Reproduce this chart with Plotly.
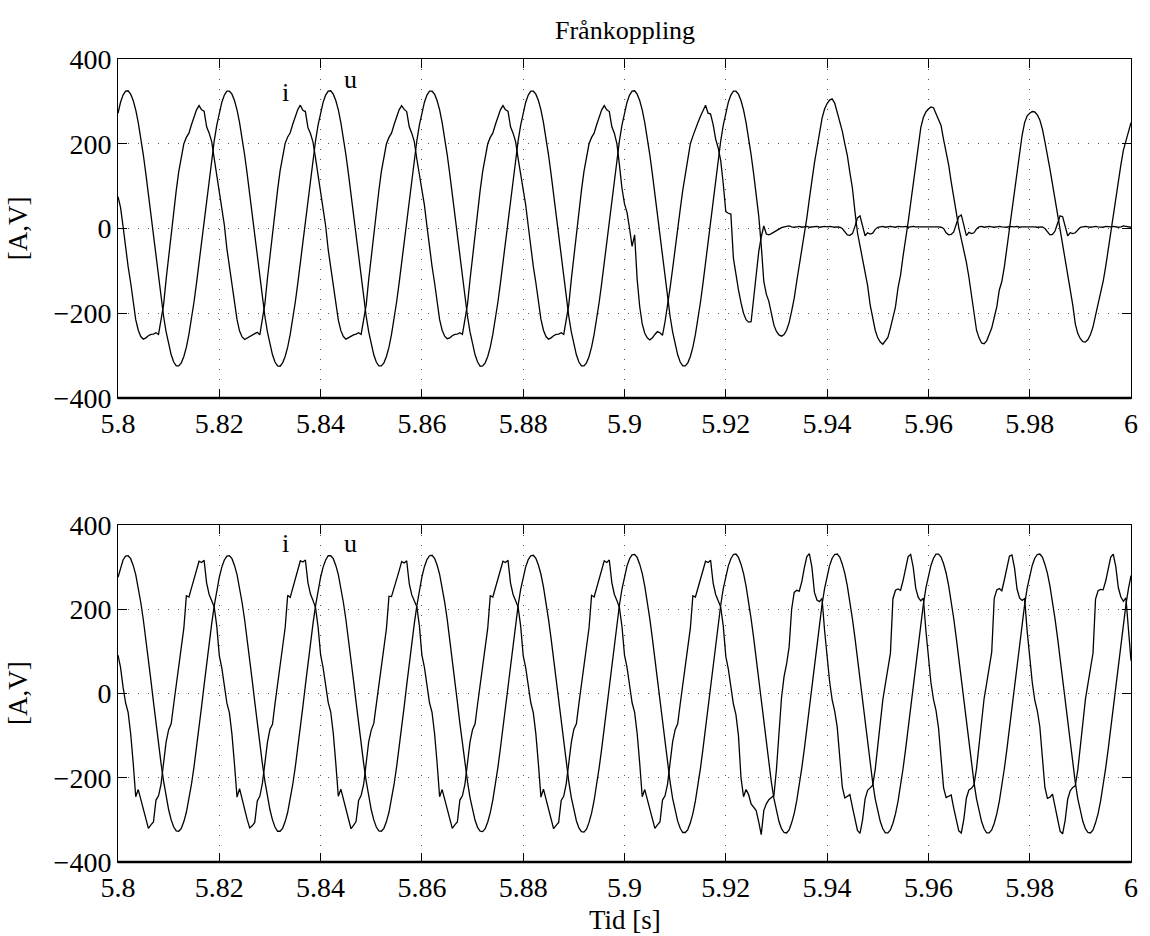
import numpy as np
import plotly.graph_objects as go

# Sampling: 0.5 ms steps from 5.8 s to 6.0 s (401 samples)
t = np.linspace(5.8, 6.0, 401)

# Upper panel: voltage u1 [V]
u1 = [
    272, 298, 315, 324, 325, 317, 302, 280, 250, 214, 174, 129, 81, 31, -20, -71, -120, -165, -207, -244,
    -274, -298, -315, -324, -324, -317, -302, -280, -250, -215, -174, -129, -81, -31, 20, 71, 120, 165, 207, 244,
    274, 298, 315, 324, 324, 317, 302, 280, 250, 215, 174, 129, 81, 31, -20, -71, -120, -165, -207, -244,
    -274, -298, -315, -324, -325, -317, -302, -280, -250, -215, -174, -129, -81, -31, 20, 71, 120, 165, 207, 244,
    274, 298, 315, 324, 325, 317, 302, 280, 250, 215, 174, 129, 81, 31, -20, -71, -120, -165, -207, -244,
    -274, -298, -315, -324, -324, -317, -302, -280, -250, -215, -174, -129, -81, -31, 20, 71, 120, 165, 207, 244,
    274, 298, 315, 324, 324, 317, 302, 280, 250, 215, 174, 129, 81, 31, -20, -71, -120, -165, -207, -244,
    -274, -298, -315, -325, -324, -317, -302, -280, -250, -215, -174, -129, -81, -31, 20, 71, 120, 165, 207, 244,
    274, 298, 315, 324, 324, 317, 302, 280, 250, 215, 174, 129, 81, 31, -20, -71, -120, -165, -207, -244,
    -274, -298, -315, -324, -324, -317, -302, -280, -250, -215, -174, -129, -81, -31, 20, 71, 120, 165, 207, 244,
    274, 298, 315, 324, 325, 317, 302, 280, 250, 215, 174, 129, 81, 31, -20, -71, -120, -165, -207, -244,
    -274, -298, -315, -324, -324, -317, -302, -280, -250, -215, -174, -129, -81, -31, 20, 71, 120, 165, 207, 244,
    274, 298, 315, 324, 324, 317, 302, 280, 250, 215, 174, 129, 81, 30, -40, -125, -155, -172, -200, -228,
    -243, -251, -254, -250, -240, -222, -195, -165, -125, -90, -50, -12, 25, 70, 115, 155, 190, 228, 260, 282,
    295, 303, 306, 296, 275, 255, 230, 200, 172, 132, 95, 40, -10, -41, -72, -100, -135, -180, -210, -240,
    -258, -268, -273, -266, -257, -235, -210, -185, -140, -110, -65, -30, 15, 60, 105, 150, 195, 238, 262, 275,
    282, 287, 285, 272, 258, 243, 210, 180, 150, 110, 75, 30, 2, -25, -52, -80, -115, -158, -200, -240,
    -258, -270, -272, -265, -250, -235, -210, -185, -145, -125, -90, -45, -5, 40, 85, 133, 175, 220, 250, 266,
    272, 276, 275, 268, 256, 235, 205, 175, 140, 105, 70, 30, -9, -40, -70, -105, -140, -180, -225, -248,
    -260, -267, -268, -262, -250, -232, -205, -180, -150, -125, -90, -50, -10, 35, 80, 120, 150, 185, 205, 230,
    250,
]

# Upper panel: current i1 [A]
i1 = [
    75, 50, 5, -50, -90, -128, -170, -215, -240, -255, -261, -258, -253, -250, -249, -246, -250, -215, -180, -120,
    -65, -12, 40, 90, 135, 172, 200, 215, 225, 245, 262, 280, 290, 280, 277, 240, 225, 205, 165, 128,
    92, 55, 8, -48, -88, -130, -172, -215, -242, -256, -262, -258, -254, -250, -248, -245, -251, -214, -178, -118,
    -63, -10, 42, 90, 136, 172, 201, 216, 226, 246, 263, 281, 291, 279, 276, 238, 224, 204, 166, 126,
    90, 54, 6, -50, -90, -129, -171, -216, -241, -255, -261, -257, -253, -251, -249, -246, -250, -216, -180, -120,
    -64, -12, 40, 89, 135, 171, 200, 215, 225, 245, 262, 280, 290, 281, 276, 240, 225, 205, 164, 127,
    89, 55, 5, -49, -89, -128, -170, -215, -240, -254, -260, -258, -253, -250, -249, -246, -250, -215, -179, -121,
    -65, -12, 41, 90, 135, 172, 200, 215, 225, 245, 262, 280, 290, 280, 277, 240, 225, 205, 165, 128,
    90, 55, 6, -50, -90, -128, -170, -214, -240, -255, -261, -258, -253, -250, -249, -246, -250, -215, -180, -120,
    -65, -12, 40, 90, 135, 172, 200, 215, 225, 245, 262, 280, 290, 280, 276, 240, 225, 200, 150, 95,
    58, 38, 0, -42, -15, -120, -184, -225, -247, -258, -263, -258, -250, -243, -246, -252, -220, -185, -140, -95,
    -45, 5, 45, 90, 130, 170, 200, 218, 232, 250, 265, 280, 291, 272, 270, 245, 211, 190, 160, 105,
    40, 36, 34, -70, -110, -145, -175, -200, -215, -221, -220, -160, -100, -55, -20, 6, -13, -15, -12, -8,
    -4, 0, 2, 4, 5, 6, 4, 3, 4, 5, 3, 4, 5, 3, 4, 4, 5, 3, 4, 5,
    4, 5, 4, 3, 4, 3, 0, -8, -15, -16, -12, 5, 25, 30, 5, -17, -10, -13, -11, -2,
    3, 4, 5, 3, 4, 5, 4, 3, 5, 4, 4, 5, 3, 4, 5, 4, 4, 5, 4, 4,
    5, 4, 4, 5, 4, 3, 0, -10, -15, -14, -8, 10, 28, 32, 5, -17, -9, -12, -10, -1,
    4, 5, 3, 4, 5, 4, 3, 4, 5, 4, 4, 3, 5, 4, 4, 5, 3, 4, 4, 5,
    4, 5, 4, 3, 4, 4, 0, -8, -15, -14, -6, 12, 30, 28, 2, -17, -10, -12, -10, -3,
    3, 4, 5, 4, 3, 4, 5, 4, 4, 3, 5, 4, 4, 5, 4, 3, 4, 6, 5, 4,
    3,
]

# Lower panel: voltage u2 [V]
u2 = [
    276, 300, 317, 326, 327, 320, 304, 282, 252, 216, 175, 130, 82, 31, -20, -71, -121, -166, -208, -246,
    -276, -300, -317, -326, -327, -320, -304, -282, -252, -216, -175, -130, -82, -31, 20, 71, 121, 166, 208, 246,
    276, 300, 317, 326, 327, 320, 304, 282, 252, 216, 175, 130, 82, 31, -20, -71, -121, -166, -208, -246,
    -276, -300, -317, -327, -327, -320, -304, -282, -252, -216, -175, -130, -82, -31, 20, 71, 121, 166, 208, 246,
    276, 300, 317, 327, 327, 320, 304, 282, 252, 216, 175, 130, 82, 31, -20, -71, -121, -166, -208, -246,
    -276, -300, -317, -326, -327, -320, -304, -282, -252, -216, -175, -130, -82, -31, 20, 71, 121, 166, 208, 246,
    277, 301, 318, 327, 328, 321, 305, 283, 253, 217, 176, 130, 82, 31, -20, -71, -121, -167, -209, -247,
    -277, -301, -318, -327, -328, -321, -305, -283, -253, -217, -176, -130, -82, -31, 20, 71, 121, 167, 209, 247,
    277, 301, 318, 327, 328, 321, 305, 283, 253, 217, 176, 131, 82, 31, -20, -72, -122, -167, -209, -247,
    -278, -302, -319, -328, -329, -322, -306, -284, -254, -218, -176, -131, -83, -31, 20, 72, 122, 168, 210, 248,
    279, 303, 320, 329, 330, 323, 307, 285, 255, 218, 177, 131, 83, 32, -20, -72, -122, -168, -210, -249,
    -279, -303, -320, -330, -330, -323, -307, -285, -255, -218, -177, -131, -83, -32, 20, 72, 122, 168, 210, 249,
    279, 303, 320, 330, 331, 323, 307, 285, 255, 219, 177, 132, 83, 32, -20, -72, -123, -168, -211, -249,
    -280, -304, -321, -330, -331, -324, -307, -285, -255, -219, -177, -132, -83, -32, 20, 72, 123, 168, 211, 249,
    280, 304, 321, 330, 331, 324, 307, 285, 255, 219, 177, 132, 83, 32, -20, -72, -123, -169, -211, -250,
    -280, -304, -321, -331, -331, -324, -308, -286, -256, -219, -178, -132, -83, -32, 20, 72, 123, 169, 211, 250,
    280, 304, 321, 331, 331, 324, 308, 286, 256, 219, 178, 132, 83, 32, -20, -72, -123, -169, -211, -250,
    -280, -304, -321, -331, -331, -324, -308, -286, -256, -219, -178, -132, -83, -32, 20, 72, 123, 169, 211, 250,
    280, 304, 321, 330, 331, 324, 307, 285, 255, 219, 177, 132, 83, 32, -20, -72, -123, -169, -211, -250,
    -280, -304, -321, -330, -331, -324, -307, -285, -255, -219, -177, -132, -83, -32, 20, 72, 123, 168, 211, 249,
    280,
]

# Lower panel: current i2 [A]
i2 = [
    91, 62, 15, -22, -45, -95, -165, -245, -228, -252, -275, -298, -320, -312, -305, -253, -243, -215, -165, -115,
    -86, -72, -25, 25, 65, 110, 155, 232, 229, 250, 270, 292, 314, 311, 316, 262, 235, 220, 205, 160,
    90, 60, 14, -23, -46, -97, -168, -246, -226, -253, -276, -299, -319, -314, -306, -255, -244, -214, -166, -116,
    -85, -73, -24, 26, 66, 111, 156, 233, 228, 251, 271, 293, 315, 312, 317, 263, 236, 221, 204, 158,
    92, 61, 16, -21, -44, -94, -166, -244, -227, -251, -274, -297, -321, -313, -304, -254, -242, -216, -164, -114,
    -87, -71, -26, 24, 64, 109, 154, 231, 230, 249, 269, 291, 313, 310, 315, 261, 234, 219, 206, 161,
    91, 62, 15, -22, -45, -95, -165, -245, -228, -252, -275, -298, -320, -312, -305, -253, -243, -215, -165, -115,
    -86, -72, -25, 25, 65, 110, 155, 232, 229, 250, 270, 292, 314, 311, 316, 262, 235, 220, 205, 160,
    90, 61, 14, -22, -46, -96, -167, -246, -227, -252, -276, -299, -321, -313, -306, -254, -244, -214, -166, -116,
    -85, -72, -24, 26, 65, 111, 156, 233, 229, 251, 271, 292, 315, 311, 317, 263, 235, 221, 204, 159,
    91, 62, 15, -22, -45, -95, -165, -245, -228, -252, -275, -298, -320, -312, -305, -253, -243, -215, -165, -115,
    -86, -72, -25, 25, 65, 110, 155, 232, 229, 250, 270, 292, 314, 311, 316, 262, 235, 220, 205, 160,
    88, 58, 12, -25, -50, -100, -200, -245, -228, -240, -262, -270, -278, -305, -335, -278, -262, -252, -248, -242,
    -180, -95, -10, 40, 70, 110, 200, 240, 245, 243, 265, 298, 325, 332, 300, 240, 222, 218, 226, 150,
    80, 28, -15, -42, -80, -154, -222, -248, -245, -240, -270, -300, -325, -332, -300, -250, -230, -224, -218, -180,
    -125, -65, -15, 22, 55, 95, 225, 245, 248, 245, 268, 300, 325, 330, 300, 250, 228, 220, 226, 150,
    78, 26, -14, -40, -82, -156, -224, -247, -244, -241, -272, -302, -326, -331, -298, -248, -229, -225, -217, -178,
    -122, -62, -12, 24, 57, 98, 226, 246, 249, 244, 270, 302, 326, 329, 298, 248, 227, 221, 225, 148,
    79, 27, -16, -41, -79, -152, -223, -249, -246, -239, -269, -301, -327, -333, -301, -251, -231, -223, -219, -181,
    -126, -66, -14, 23, 56, 96, 224, 244, 247, 246, 267, 299, 324, 331, 301, 251, 229, 219, 227, 152,
    78,
]

x_ticks = [5.8, 5.82, 5.84, 5.86, 5.88, 5.9, 5.92, 5.94, 5.96, 5.98, 6.0]
x_tick_text = ["5.8", "5.82", "5.84", "5.86", "5.88", "5.9", "5.92", "5.94", "5.96", "5.98", "6"]
y_ticks = [-400, -200, 0, 200, 400]

FONT = "Liberation Serif"
TICK_SIZE = 28
TEXT_SIZE = 26
LABEL_SIZE = 27
line_style = dict(color="black", width=1.3)

fig = go.Figure()
fig.add_trace(go.Scatter(x=t, y=u1, mode="lines", line=line_style, xaxis="x", yaxis="y"))
fig.add_trace(go.Scatter(x=t, y=i1, mode="lines", line=line_style, xaxis="x", yaxis="y"))
fig.add_trace(go.Scatter(x=t, y=u2, mode="lines", line=line_style, xaxis="x2", yaxis="y2"))
fig.add_trace(go.Scatter(x=t, y=i2, mode="lines", line=line_style, xaxis="x2", yaxis="y2"))

top_dom = [0.5778, 1.0]
bot_dom = [0.0, 0.4197]

xcommon = dict(
    range=[5.8, 6.0], tickvals=x_ticks, ticktext=x_tick_text,
    ticks="inside", ticklen=9, tickwidth=1, tickcolor="black",
    showline=True, linecolor="black", linewidth=1, mirror="ticks",
    showgrid=True, gridcolor="#555555", gridwidth=1, griddash="1px,9px",
    zeroline=False, tickfont=dict(family=FONT, size=TICK_SIZE, color="black"),
)
ycommon = dict(
    range=[-400, 400], tickvals=y_ticks,
    ticks="inside", ticklen=9, tickwidth=1, tickcolor="black",
    showline=True, linecolor="black", linewidth=1, mirror="ticks",
    showgrid=True, gridcolor="#555555", gridwidth=1, griddash="1px,9px",
    zeroline=False, tickfont=dict(family=FONT, size=TICK_SIZE, color="black"),
)

fig.update_layout(
    width=1150, height=936,
    margin=dict(l=118, r=13, t=59, b=74),
    paper_bgcolor="white", plot_bgcolor="white",
    showlegend=False,
    font=dict(family=FONT, size=TEXT_SIZE, color="black"),
    xaxis=dict(xcommon, domain=[0, 1], anchor="y"),
    yaxis=dict(ycommon, domain=top_dom, anchor="x"),
    xaxis2=dict(xcommon, domain=[0, 1], anchor="y2"),
    yaxis2=dict(ycommon, domain=bot_dom, anchor="x2"),
)

# Heavier bottom edge on each panel
for xr, yr in (("x domain", "y domain"), ("x2 domain", "y2 domain")):
    fig.add_shape(type="line", xref=xr, yref=yr, x0=0, x1=1, y0=0, y1=0,
                  line=dict(color="black", width=2.5), layer="above")

ann = [
    dict(text="Frånkoppling", xref="paper", yref="paper", x=0.5, y=1.036, size=TEXT_SIZE),
    dict(text="Tid [s]", xref="paper", yref="paper", x=0.5, y=-0.0722, size=LABEL_SIZE),
    dict(text="[A,V]", xref="paper", yref="paper", x=-0.098, y=0.789, textangle=-90, size=LABEL_SIZE),
    dict(text="[A,V]", xref="paper", yref="paper", x=-0.098, y=0.21, textangle=-90, size=LABEL_SIZE),
    dict(text="i", xref="x", yref="y", x=5.8331, y=320, size=TEXT_SIZE),
    dict(text="u", xref="x", yref="y", x=5.8459, y=352, size=TEXT_SIZE),
    dict(text="i", xref="x2", yref="y2", x=5.8331, y=356, size=TEXT_SIZE),
    dict(text="u", xref="x2", yref="y2", x=5.8459, y=357, size=TEXT_SIZE),
]
for a in ann:
    size = a.pop("size")
    fig.add_annotation(showarrow=False, xanchor="center", yanchor="middle",
                       font=dict(family=FONT, size=size, color="black"), **a)

fig.write_html("out.html")
